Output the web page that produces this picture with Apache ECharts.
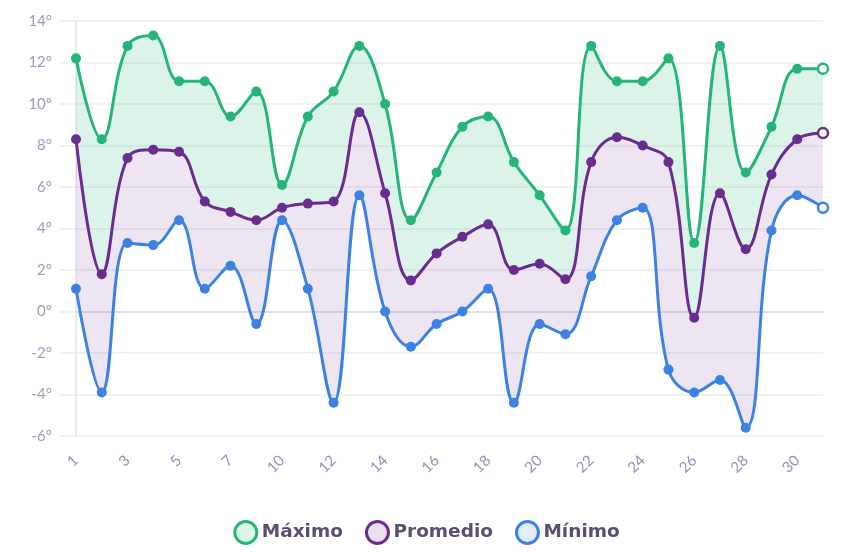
<!DOCTYPE html>
<html>
<head>
<meta charset="utf-8">
<script src="https://cdn.jsdelivr.net/npm/echarts@6/dist/echarts.min.js"></script>
<style>
  html, body { margin: 0; padding: 0; background: #fff; }
  #chart { width: 853px; height: 552px; }
</style>
</head>
<body>
<div id="chart"></div>
<script>
// 类目（日）
var days = ['1', '2', '3', '4', '5', '6', '7', '9', '10', '11', '12', '13', '14', '15', '16',
    '17', '18', '19', '20', '21', '22', '23', '24', '25', '26', '27', '28', '29', '30', '31'];

// 最高
var maxData = [12.2, 8.3, 12.8, 13.3, 11.1, 11.1, 9.4, 10.6, 6.1, 9.4, 10.6, 12.8, 10.0, 4.4, 6.7,
    8.9, 9.4, 7.2, 5.6, 3.9, 12.8, 11.1, 11.1, 12.2, 3.3, 12.8, 6.7, 8.9, 11.7, 11.7];

// 平均
var avgData = [8.3, 1.8, 7.4, 7.8, 7.7, 5.3, 4.8, 4.4, 5.0, 5.2, 5.3, 9.6, 5.7, 1.5, 2.8,
    3.6, 4.2, 2.0, 2.3, 1.55, 7.2, 8.4, 8.0, 7.2, -0.3, 5.7, 3.0, 6.6, 8.3, 8.6];

// 最低
var minData = [1.1, -3.9, 3.3, 3.2, 4.4, 1.1, 2.2, -0.6, 4.4, 1.1, -4.4, 5.6, 0.0, -1.7, -0.6,
    0.0, 1.1, -4.4, -0.6, -1.1, 1.7, 4.4, 5.0, -2.8, -3.9, -3.3, -5.6, 3.9, 5.6, 5.0];

// 名称
var names = ['Máximo', 'Promedio', 'Mínimo'];

// 颜色
var colors = ['#25b677', '#6a2d8f', '#3c82e3'];
var fills = ['rgba(37,182,119,0.16)', 'rgba(106,45,143,0.12)', 'rgba(60,130,227,0.06)'];

var SMOOTH = 0.4;

// 差值（填充带）
var bandLow = minData.slice();
var bandMid = avgData.map(function (v, i) { return +(v - minData[i]).toFixed(3); });
var bandTop = maxData.map(function (v, i) { return +(v - avgData[i]).toFixed(3); });

// 可见折线
var lineSeries = function (name, data, color) {
    return {
        name: name,
        type: 'line',
        data: data.map(function (v, i) {
            if (i === data.length - 1)
                return { value: v, itemStyle: { color: '#fff', borderColor: color, borderWidth: 2.5 } };
            return v;
        }),
        smooth: SMOOTH,
        symbol: 'circle',
        symbolSize: 10,
        showAllSymbol: true,
        lineStyle: { color: color, width: 3 },
        itemStyle: { color: color },
        z: 5
    };
};

// 填充带
var bandSeries = function (name, data, fill) {
    return {
        name: name,
        type: 'line',
        stack: 'band',
        stackStrategy: 'all',
        data: data,
        smooth: SMOOTH,
        symbol: 'none',
        silent: true,
        lineStyle: { width: 0, opacity: 0 },
        areaStyle: fill ? { color: fill, opacity: 1 } : undefined,
        z: 2
    };
};

var chart = echarts.init(document.getElementById('chart'));

chart.setOption({
    animation: false,
    grid: { left: 76, right: 30, top: 21, bottom: 116, outerBoundsMode: 'none' },
    legend: {
        bottom: 2,
        left: 'center',
        icon: 'circle',
        itemWidth: 22,
        itemHeight: 22,
        itemGap: 22,
        selectedMode: false,
        textStyle: { fontFamily: 'DejaVu Sans', fontSize: 18.5, fontWeight: 'bold', color: '#5c4e72' },
        data: names.map(function (n, i) {
            return { name: n, itemStyle: { color: fills[i].replace(/[\d.]+\)$/, '0.15)'), borderColor: colors[i], borderWidth: 3 } };
        })
    },
    xAxis: {
        type: 'category',
        data: days,
        boundaryGap: false,
        axisLine: { lineStyle: { color: '#dedbe3', width: 1.5 } },
        axisTick: { show: false },
        splitLine: { show: false },
        axisLabel: {
            interval: 1,
            rotate: 45,
            margin: 22,
            fontFamily: 'Lato',
            fontSize: 15,
            color: '#9d8bba'
        }
    },
    yAxis: {
        type: 'value',
        min: -6,
        max: 14,
        interval: 2,
        axisLine: { show: true, lineStyle: { color: '#e6e3ea', width: 1.5 } },
        axisTick: { show: true, length: 16, lineStyle: { color: '#eeecf1', width: 1.5 } },
        splitLine: { lineStyle: { color: '#eeecf1', width: 1.5 } },
        axisLabel: {
            margin: 24,
            fontFamily: 'Lato',
            fontSize: 15,
            color: '#a596bc',
            formatter: function (v) { return v + '°'; }
        }
    },
    series: [
        bandSeries('_low', bandLow, null),
        bandSeries('_mid', bandMid, fills[1]),
        bandSeries('_top', bandTop, fills[0]),
        lineSeries(names[0], maxData, colors[0]),
        lineSeries(names[1], avgData, colors[1]),
        lineSeries(names[2], minData, colors[2])
    ]
});
</script>
</body>
</html>
